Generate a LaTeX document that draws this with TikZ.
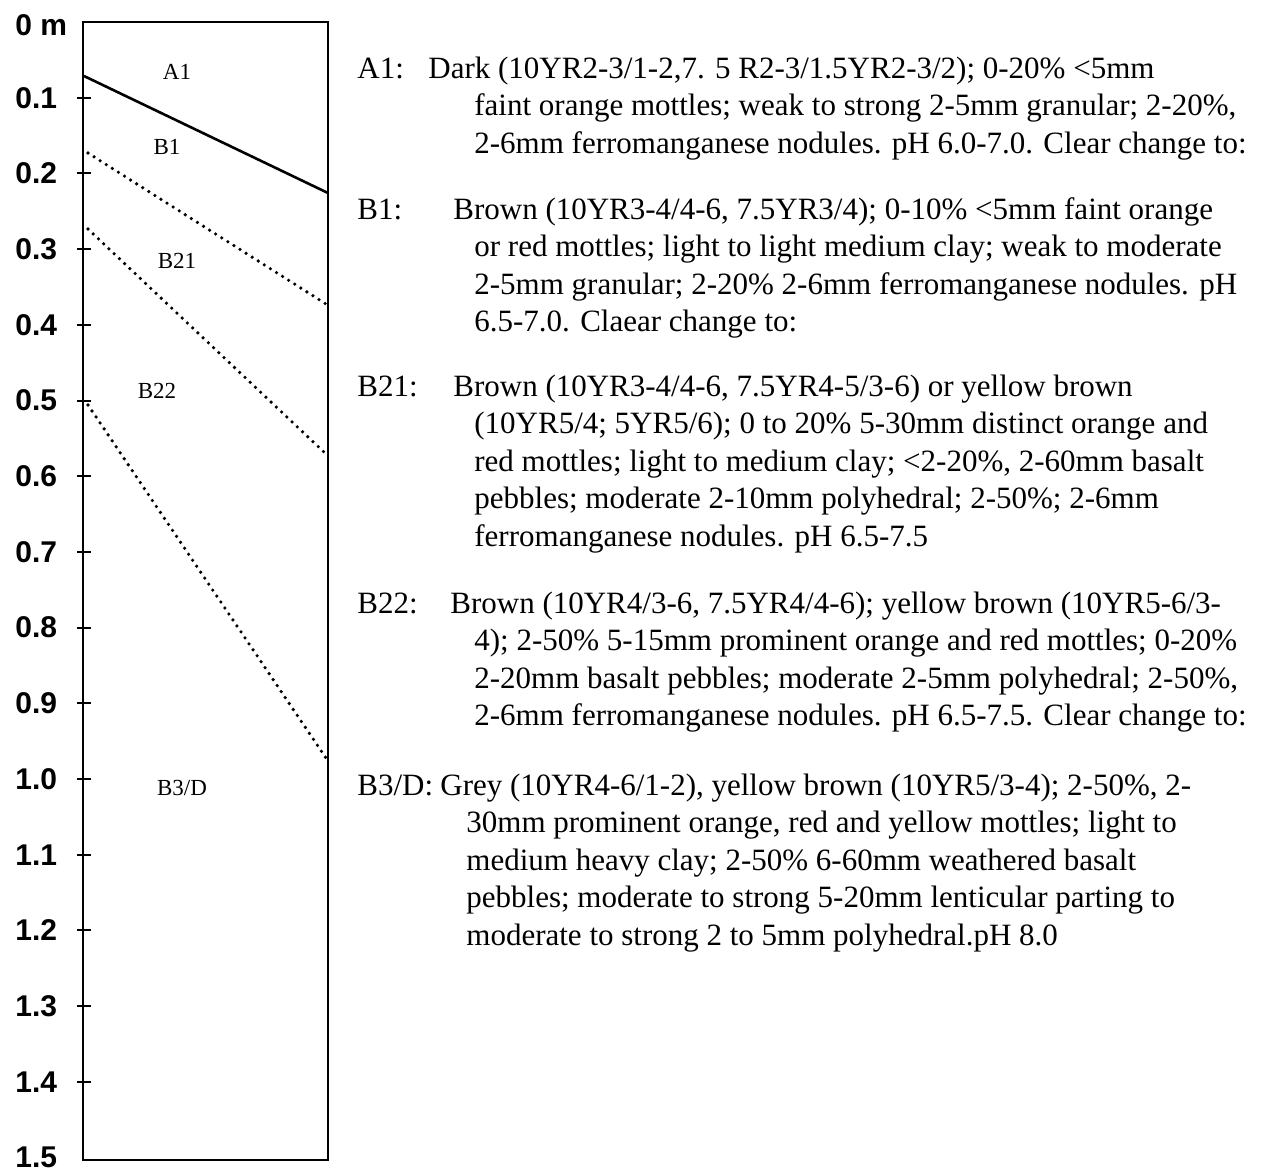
\documentclass[tikz,border=0pt]{standalone}
\usepackage{fontspec}
\setmainfont{Liberation Serif}
\newfontfamily\axisfont{Liberation Sans}
\usepackage{tikz}
\usetikzlibrary{positioning}

\begin{document}
\begin{tikzpicture}[
x=0.5pt,y=-0.5pt,
profile/.style={line width=1.4pt},
boundary/.style={line width=1.3pt},
dotline/.style={line width=1.8pt,line cap=round,dash pattern=on 0pt off 3.6pt},
tick/.style={line width=1pt},
depth/.style={anchor=west,inner sep=0,font=\axisfont\bfseries\fontsize{15}{17}\selectfont},
hor/.style={inner sep=0,font=\fontsize{11.5}{13}\selectfont},
hlab/.style={anchor=base west,inner sep=0,font=\fontsize{15.5}{18.75}\selectfont},
desc/.style={anchor=base west,inner sep=0,align=left,font=\fontsize{15.5}{18.75}\selectfont}
]
\useasboundingbox (0,0) rectangle (1269,1169);

% soil column
\draw[profile] (83,22) rectangle (328,1160);
\node[depth] (d0) at (15,25) {0 m};
\foreach \d/\t in {1/0.1,2/0.2,3/0.3,4/0.4,5/0.5,6/0.6,7/0.7,8/0.8,9/0.9,10/1.0,11/1.1,12/1.2,13/1.3,14/1.4}{
  \draw[tick] (77,{22+75.7*\d}) -- (91,{22+75.7*\d});
  \node[depth] (d\d) at (15,{22+75.7*\d}) {\t};
}
\node[depth] (d15) at (15,1157) {1.5};

% horizon boundaries
\draw[boundary] (84,76) -- (328,193);
\draw[dotline] (88,153) -- (326,304);
\draw[dotline] (88,229) -- (326,454);
\draw[dotline] (88,405) -- (326,758);

\node[hor] (a1) at (177,72) {A1};
\node[hor] (b1) at (167,147) {B1};
\node[hor] (b21) at (177,261) {B21};
\node[hor] (b22) at (157,391) {B22};
\node[hor] (b3) at (182,788) {B3/D};

% descriptions (node base = last line)
\node[hlab] (a1lab) at (357,78) {A1:};
\node[desc] (a1txt) at (428,153) {Dark (10YR2-3/1-2,7. 5 R2-3/1.5YR2-3/2); 0-20\% <5mm\\
\hspace*{23pt}faint orange mottles; weak to strong 2-5mm granular; 2-20\%,\\
\hspace*{23pt}2-6mm ferromanganese nodules. pH 6.0-7.0. Clear change to:};

\node[hlab] (b1lab) at (357,219) {B1:};
\node[desc] (b1txt) at (453,331.5) {Brown (10YR3-4/4-6, 7.5YR3/4); 0-10\% <5mm faint orange\\
\hspace*{10.5pt}or red mottles; light to light medium clay; weak to moderate\\
\hspace*{10.5pt}2-5mm granular; 2-20\% 2-6mm ferromanganese nodules. pH\\
\hspace*{10.5pt}6.5-7.0. Claear change to:};

\node[hlab] (b21lab) at (357,396) {B21:};
\node[desc] (b21txt) at (453,546) {Brown (10YR3-4/4-6, 7.5YR4-5/3-6) or yellow brown\\
\hspace*{10.5pt}(10YR5/4; 5YR5/6); 0 to 20\% 5-30mm distinct orange and\\
\hspace*{10.5pt}red mottles; light to medium clay; <2-20\%, 2-60mm basalt\\
\hspace*{10.5pt}pebbles; moderate 2-10mm polyhedral; 2-50\%; 2-6mm\\
\hspace*{10.5pt}ferromanganese nodules. pH 6.5-7.5};

\node[hlab] (b22lab) at (357,613) {B22:};
\node[desc] (b22txt) at (450,725.5) {Brown (10YR4/3-6, 7.5YR4/4-6); yellow brown (10YR5-6/3-\\
\hspace*{12pt}4); 2-50\% 5-15mm prominent orange and red mottles; 0-20\%\\
\hspace*{12pt}2-20mm basalt pebbles; moderate 2-5mm polyhedral; 2-50\%,\\
\hspace*{12pt}2-6mm ferromanganese nodules. pH 6.5-7.5. Clear change to:};

\node[hlab] (b3lab) at (357,795) {B3/D:};
\node[desc] (b3txt) at (440,945) {Grey (10YR4-6/1-2), yellow brown (10YR5/3-4); 2-50\%, 2-\\
\hspace*{13pt}30mm prominent orange, red and yellow mottles; light to\\
\hspace*{13pt}medium heavy clay; 2-50\% 6-60mm weathered basalt\\
\hspace*{13pt}pebbles; moderate to strong 5-20mm lenticular parting to\\
\hspace*{13pt}moderate to strong 2 to 5mm polyhedral.pH 8.0};
\end{tikzpicture}
\end{document}
